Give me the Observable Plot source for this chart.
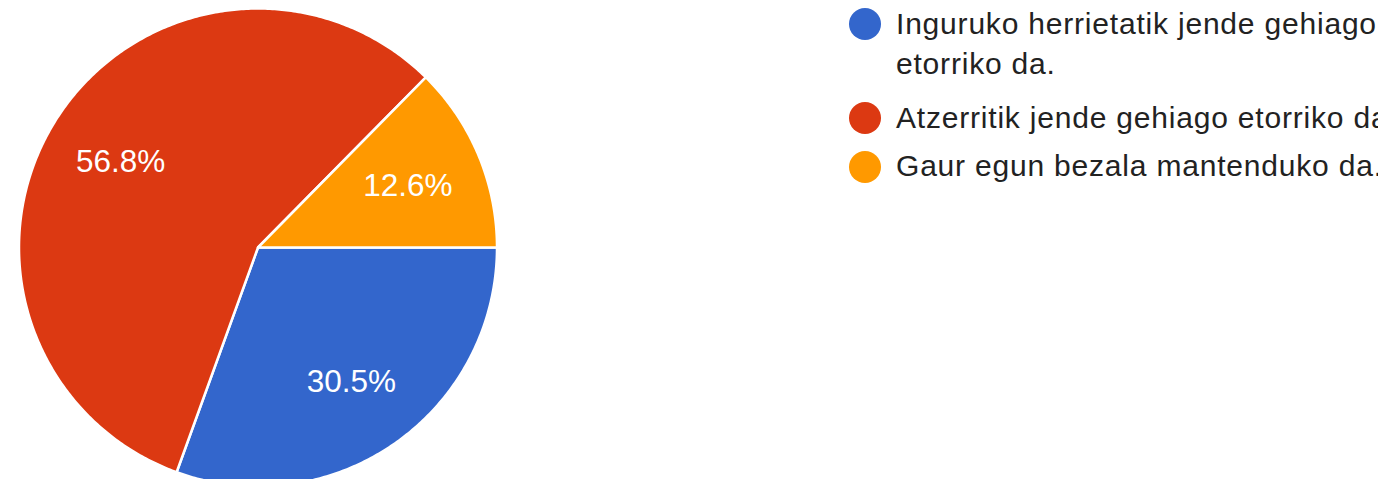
<!DOCTYPE html>
<html>
<head>
<meta charset="utf-8">
<script src="https://cdn.jsdelivr.net/npm/d3@7"></script>
<script src="https://cdn.jsdelivr.net/npm/@observablehq/plot@0.6"></script>
<style>
  html, body { margin: 0; padding: 0; background: #fff; overflow: hidden; }
  #wrap { position: relative; width: 1378px; height: 479px; overflow: hidden; }
  #chart svg { display: block; }
  #legend { position: absolute; left: 849px; top: 0; width: 700px; font-family: "Liberation Sans", Arial, sans-serif; font-size: 30px; letter-spacing: 0.8px; color: #222222; }
  .item { position: relative; padding-left: 47px; white-space: nowrap; line-height: 40px; }
  .item .sw { position: absolute; left: 0; width: 32px; height: 32px; border-radius: 50%; }
</style>
</head>
<body>
<div id="wrap">
  <div id="chart"></div>
  <div id="legend"></div>
</div>
<script>
const categories = [
  "Inguruko herrietatik jende gehiago etorriko da.",
  "Atzerritik jende gehiago etorriko da.",
  "Gaur egun bezala mantenduko da."
];
const values = [30.5, 56.8, 12.6];
const colors = ["#3366CC", "#DC3912", "#FF9900"];
const legendLines = [
  ["Inguruko herrietatik jende gehiago", "etorriko da."],
  ["Atzerritik jende gehiago etorriko da."],
  ["Gaur egun bezala mantenduko da."]
];

const cx = 257.5, cy = 247, r = 239;
const arcs = d3.pie().sort(null).startAngle(Math.PI / 2).endAngle(Math.PI / 2 + 2 * Math.PI)(values);

const polyPts = [];
arcs.forEach((a, i) => {
  const cat = categories[i];
  polyPts.push({cat, x: 0, y: 0});
  const n = Math.max(8, Math.ceil((a.endAngle - a.startAngle) / 0.01));
  for (let k = 0; k <= n; k++) {
    const t = a.startAngle + (a.endAngle - a.startAngle) * k / n;
    polyPts.push({cat, x: Math.sin(t), y: Math.cos(t)});
  }
  polyPts.push({cat, x: 0, y: 0});
});

const labels = arcs.map((a, i) => {
  const m = (a.startAngle + a.endAngle) / 2;
  return {cat: categories[i], x: 0.68 * Math.sin(m), y: 0.68 * Math.cos(m), text: values[i].toFixed(1) + "%"};
});

const chart = Plot.plot({
  width: 1378,
  height: 479,
  margin: 0,
  x: {domain: [-1, 1], range: [cx - r, cx + r], axis: null},
  y: {domain: [-1, 1], range: [cy + r, cy - r], axis: null},
  color: {domain: categories, range: colors},
  marks: [
    Plot.line(polyPts, {x: "x", y: "y", z: "cat", fill: "cat", stroke: "white", strokeWidth: 2.5, strokeLinejoin: "round", curve: "linear"}),
    Plot.text(labels, {x: "x", y: "y", text: "text", fill: "white", fontSize: 31.5, fontFamily: "Liberation Sans, Arial, sans-serif", textAnchor: "middle", dy: 1})
  ]
});
document.getElementById("chart").appendChild(chart);

const legend = document.getElementById("legend");
const tops = [4, 98, 146];
legendLines.forEach((lines, i) => {
  const div = document.createElement("div");
  div.className = "item";
  div.style.position = "absolute";
  div.style.top = tops[i] + "px";
  const sw = document.createElement("span");
  sw.className = "sw";
  sw.style.background = colors[i];
  sw.style.top = (i === 2 ? 5 : 4) + "px";
  div.appendChild(sw);
  lines.forEach(l => {
    const ln = document.createElement("div");
    ln.textContent = l;
    div.appendChild(ln);
  });
  legend.appendChild(div);
});
</script>
</body>
</html>
